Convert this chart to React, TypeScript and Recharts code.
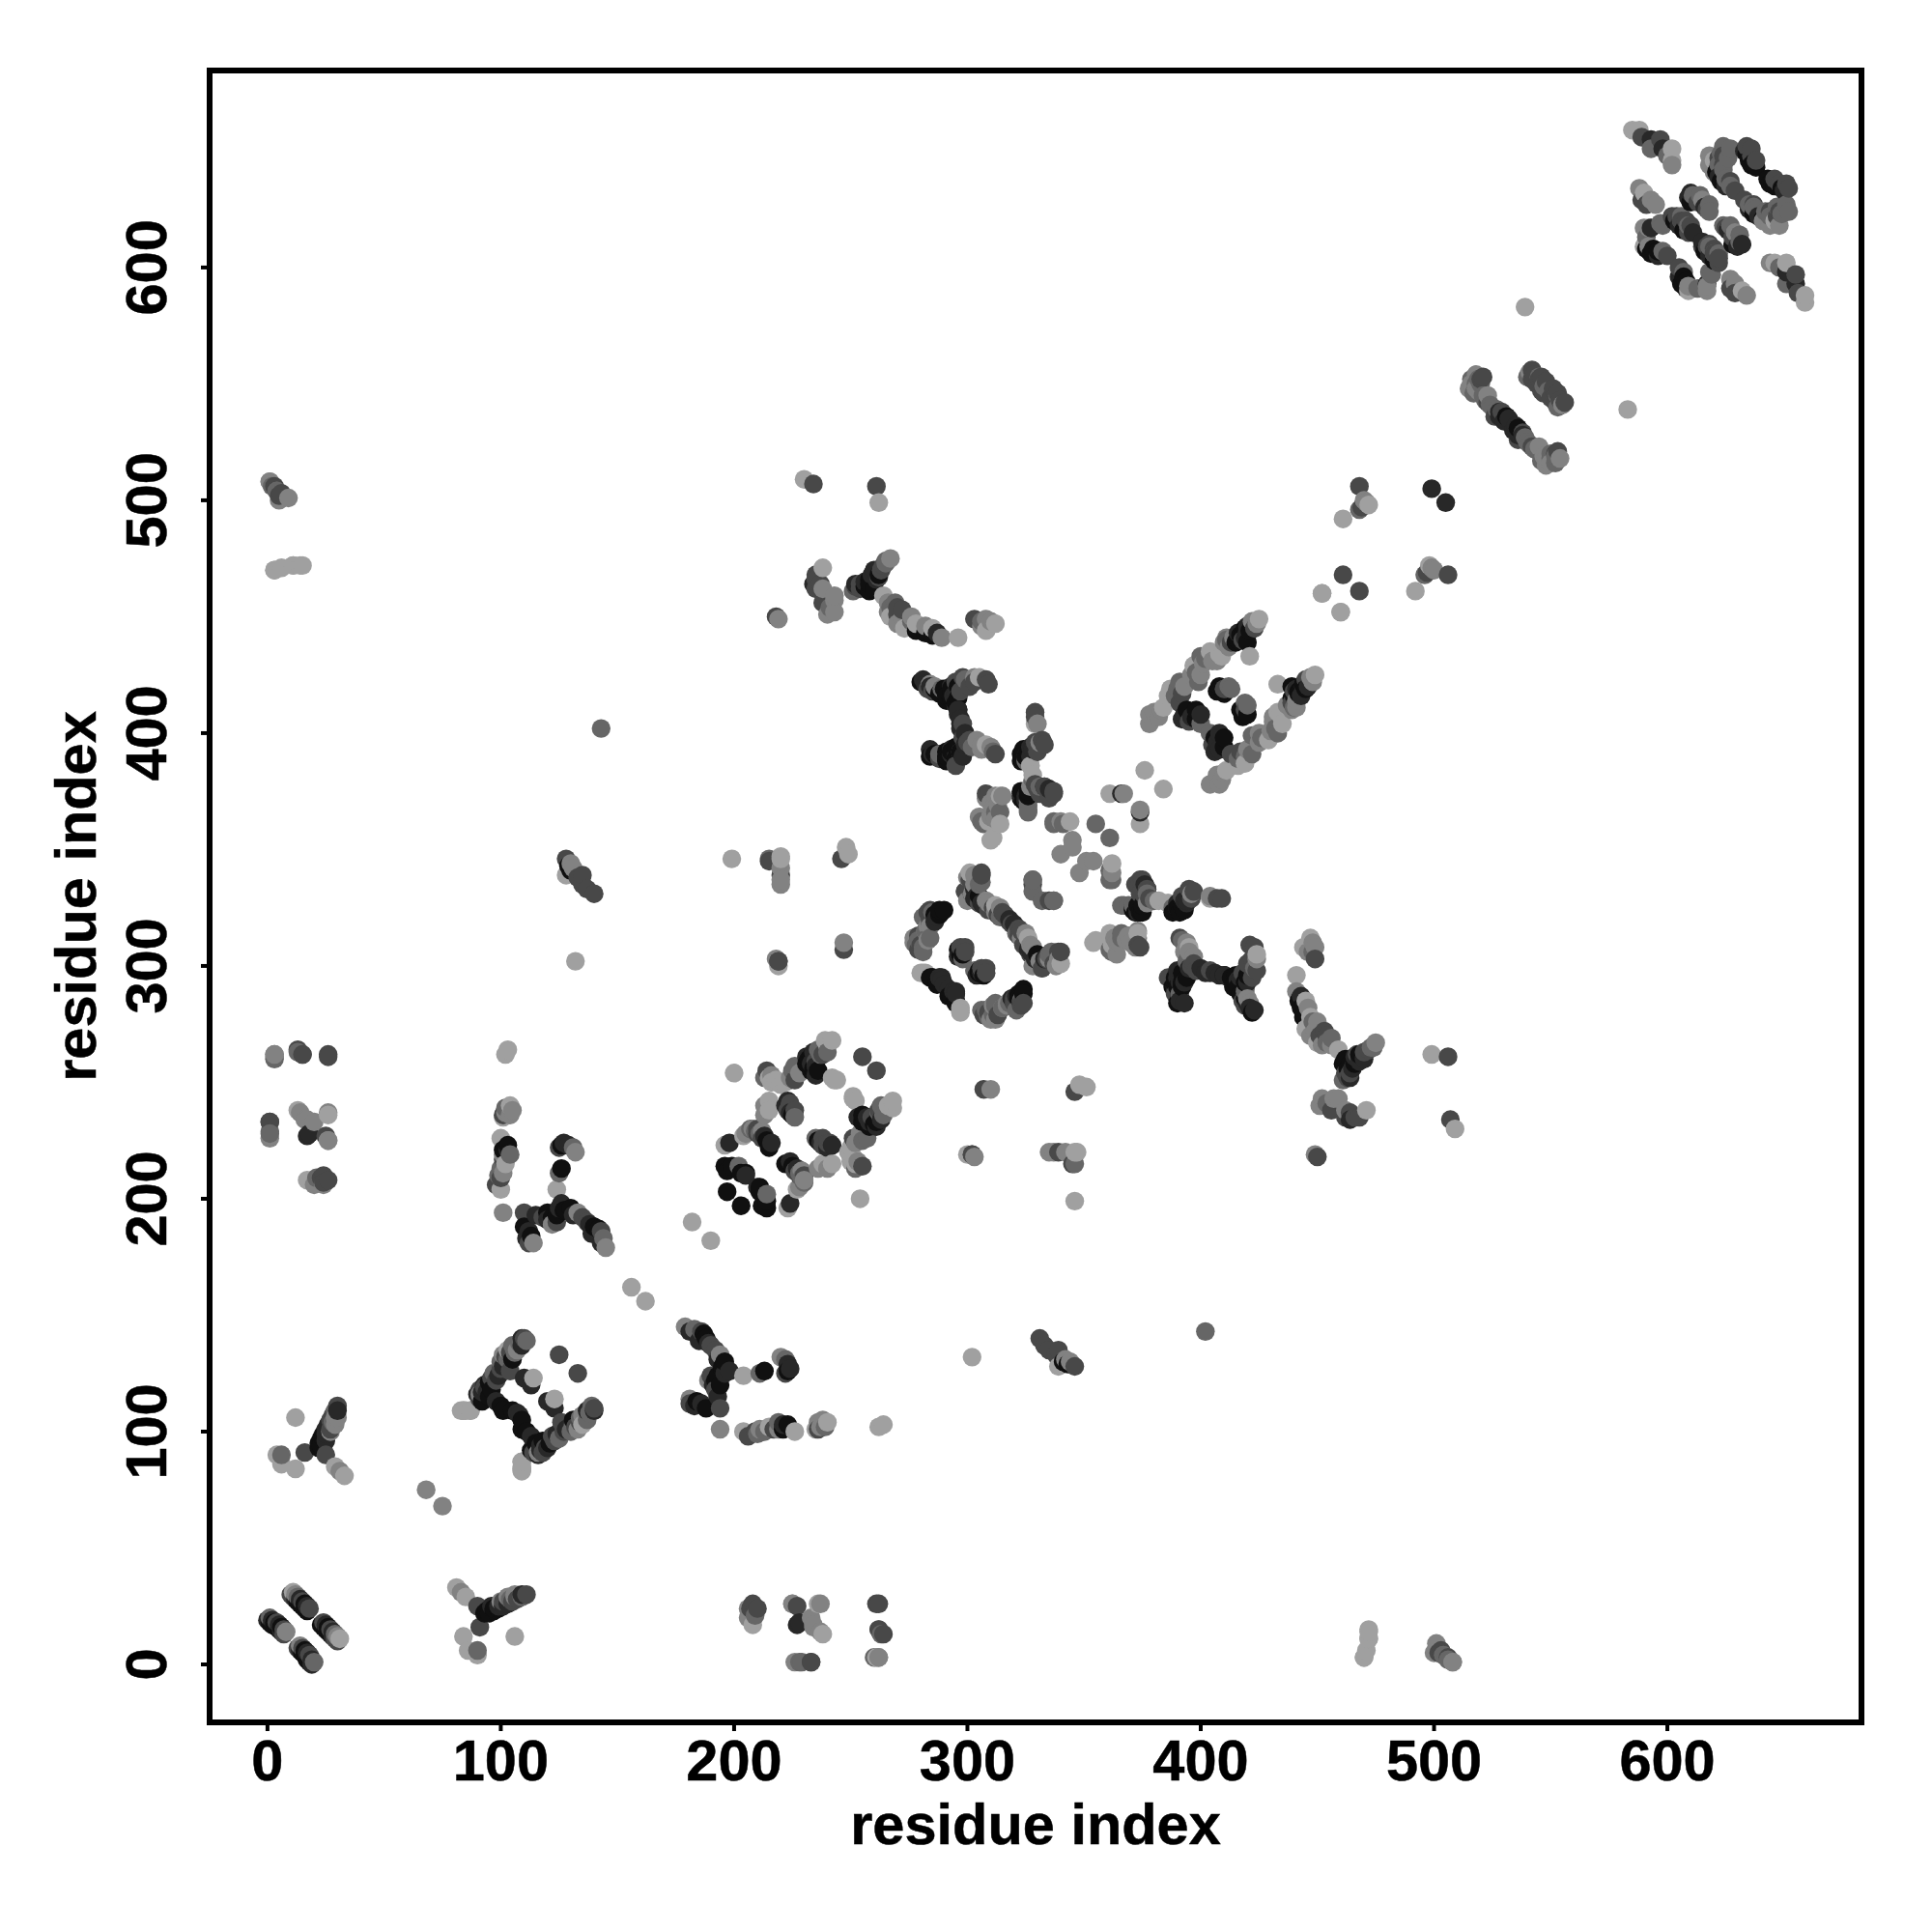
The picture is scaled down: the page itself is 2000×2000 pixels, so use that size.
/**
 * App.tsx — residue contact map, drawn as one symmetric scatter in shades of gray.
 * Each row is [residue i, residue j, level]; level 0 is the lightest, 5 the darkest.
 */

import { ScatterChart, Scatter, XAxis, YAxis, ReferenceArea, Label } from "recharts";

const TICKS = [0, 100, 200, 300, 400, 500, 600];
const AXIS_TITLE = "residue index";
const GRAYS = ["#a0a0a0", "#828282", "#666666", "#484848", "#282828", "#101010"];

const block0to30 = [
  [0, 19, 4], [1, 18, 5], [2, 17, 5], [3, 17, 5], [4, 16, 5], [5, 15, 5], [6, 14, 4], [7, 13, 3],
  [10, 30, 3], [11, 29, 3], [12, 28, 4], [13, 27, 5], [14, 26, 5], [15, 25, 5], [16, 24, 5], [17, 23, 5],
  [1, 20, 2], [2, 19, 4], [3, 18, 5], [4, 18, 3], [5, 17, 4], [6, 16, 5], [7, 15, 3], [8, 14, 1],
  [11, 31, 0], [12, 30, 1], [13, 29, 2], [14, 28, 4], [15, 27, 3], [16, 26, 5], [17, 25, 4], [18, 24, 3],
];

const block0to30vs90 = [
  [93, 22, 5], [95, 22, 5], [97, 23, 5], [99, 24, 5], [101, 25, 4], [103, 26, 4], [105, 27, 3], [107, 28, 3], [109, 29, 2], [111, 30, 3],
  [96, 25, 4], [100, 27, 1], [103, 29, 1], [106, 30, 1],
  [81, 33, 0], [83, 31, 1], [85, 29, 0], [90, 25, 3], [94, 23, 5], [97, 24, 5], [99, 25, 4], [101, 27, 3],
  [104, 28, 2], [106, 29, 1], [109, 30, 4], [91, 16, 3], [84, 12, 0], [106, 12, 0], [86, 6, 0], [90, 4, 0], [90, 6, 2],
];

const block90to140 = [
  [91, 118, 3], [93, 120, 4], [96, 123, 3], [97, 125, 2], [100, 127, 3], [100, 130, 2], [102, 132, 3], [103, 131, 2], [105, 137, 2],
  [104, 134, 3], [107, 135, 1], [109, 140, 4], [111, 139, 2], [90, 116, 4], [91, 114, 3], [94, 117, 4], [95, 115, 5], [96, 118, 5],
  [68, 75, 1], [83, 109, 0], [85, 109, 0], [84, 109, 0], [87, 109, 0], [92, 113, 5], [92, 117, 4], [93, 119, 3],
  [91, 116, 1], [95, 121, 5], [98, 122, 3], [99, 124, 4], [98, 113, 4], [101, 109, 5], [100, 111, 5],
  [101, 128, 4], [101, 133, 1], [103, 135, 0], [106, 134, 2], [108, 138, 2], [110, 140, 3], [109, 137, 4],
  [105, 131, 5], [104, 126, 3], [105, 109, 5], [107, 108, 4], [110, 123, 4], [113, 120, 4], [114, 123, 0],
  [125, 133, 3], [109, 84, 0], [109, 87, 0], [156, 162, 0], [182, 190, 0],
];

const block180to145 = [
  [186, 143, 3], [188, 140, 5], [189, 138, 4], [192, 135, 3], [193, 131, 4], [195, 127, 5], [196, 125, 4], [192, 122, 5], [190, 124, 3],
  [194, 120, 5], [192, 118, 3], [186, 112, 4], [183, 111, 4], [222, 131, 2], [224, 127, 4], [222, 125, 3], [210, 99, 2], [213, 100, 2],
  [217, 101, 3], [219, 101, 1], [221, 101, 5], [237, 102, 1], [239, 102, 2], [236, 104, 1],
  [179, 145, 1], [183, 144, 2], [181, 143, 4], [187, 142, 5], [185, 139, 4], [190, 137, 3], [194, 133, 1], [196, 130, 5],
  [198, 126, 4], [204, 124, 0], [211, 125, 2], [213, 126, 5], [220, 132, 1], [223, 129, 4], [223, 126, 5], [193, 124, 5],
  [195, 128, 5], [191, 120, 4], [189, 122, 1], [193, 115, 4], [194, 110, 3], [188, 110, 5], [184, 113, 5], [181, 114, 1], [181, 112, 3],
  [194, 101, 1], [204, 100, 0], [206, 98, 3], [209, 100, 3], [211, 101, 1], [215, 102, 0], [219, 104, 2], [221, 103, 4], [223, 103, 5],
  [226, 100, 0], [235, 101, 0], [236, 101, 3], [238, 105, 1], [240, 104, 0], [262, 102, 0], [264, 103, 0],
  [302, 132, 0], [331, 140, 3], [333, 137, 3], [335, 135, 3], [339, 135, 3], [342, 131, 1], [339, 128, 0], [343, 129, 5], [346, 128, 3],
  [402, 143, 2], [338, 133, 3], [341, 130, 5], [344, 130, 1],
];

const block200to270 = [
  [210, 230, 3], [212, 229, 1], [213, 227, 4], [216, 224, 4], [224, 241, 3], [222, 240, 4], [231, 261, 4], [233, 261, 5], [235, 259, 3],
  [237, 262, 2], [235, 257, 4], [231, 258, 5], [233, 255, 5], [235, 253, 4], [216, 253, 1], [218, 251, 0], [220, 249, 0], [224, 252, 1], [225, 255, 2],
  [224, 240, 3], [224, 237, 4], [226, 238, 3], [213, 240, 1], [213, 236, 1], [205, 228, 1], [207, 230, 2],
  [200, 254, 0], [204, 227, 0], [196, 223, 0], [198, 224, 4], [196, 214, 5], [197, 212, 5], [199, 214, 5], [202, 214, 2],
  [203, 211, 5], [205, 211, 5], [205, 210, 4], [197, 203, 5], [208, 230, 1], [209, 229, 2], [210, 228, 3], [211, 228, 2],
  [212, 226, 3], [214, 225, 5], [215, 222, 5], [214, 255, 3], [213, 252, 2], [215, 252, 0], [216, 250, 0], [221, 250, 0], [222, 250, 0],
  [215, 242, 0], [215, 238, 0], [223, 242, 4], [223, 238, 3], [225, 236, 5], [226, 235, 2], [226, 251, 3], [226, 257, 2], [228, 254, 1],
  [232, 260, 5], [233, 258, 4], [234, 256, 5], [234, 263, 4], [236, 255, 5], [236, 264, 2], [238, 262, 3], [240, 266, 0], [240, 263, 2],
  [239, 268, 0], [242, 268, 0], [242, 252, 0], [244, 251, 0], [243, 251, 0], [255, 261, 3],
];

const blockFarPairs = [
  [282, 297, 0], [288, 295, 4], [285, 295, 5], [295, 289, 4], [295, 285, 5], [297, 281, 0], [308, 281, 2], [310, 277, 1], [313, 279, 3],
  [317, 283, 1], [320, 286, 3], [323, 285, 2], [323, 284, 3], [324, 290, 5], [306, 297, 4], [308, 299, 3],
  [307, 279, 3], [309, 278, 2], [312, 283, 2], [315, 282, 1], [318, 284, 2], [321, 287, 4], [322, 288, 5],
  [307, 247, 3], [310, 247, 1], [346, 246, 3], [348, 249, 0], [351, 248, 0],
  [300, 219, 0], [302, 219, 3], [303, 218, 1], [335, 220, 1], [339, 220, 3], [342, 220, 1], [347, 220, 0], [346, 215, 2], [346, 199, 0],
  [219, 302, 3], [220, 337, 1], [220, 346, 0], [215, 345, 3],
];

const block280to340 = [
  [282, 315, 2], [279, 311, 2], [283, 311, 1], [283, 323, 3], [286, 322, 5], [284, 320, 3], [296, 307, 5], [296, 304, 4], [303, 298, 2], [305, 297, 5],
  [289, 294, 4], [287, 293, 5], [292, 290, 4], [292, 287, 5],
  [300, 338, 1], [303, 334, 3], [302, 331, 4], [305, 327, 3], [307, 326, 4], [309, 324, 3], [313, 322, 3], [319, 318, 3], [321, 314, 2], [323, 312, 1],
  [325, 311, 3], [327, 306, 4], [329, 303, 4], [331, 302, 1], [333, 303, 4], [335, 303, 1], [337, 301, 3],
  [288, 324, 5], [284, 324, 3], [281, 321, 2], [284, 317, 1], [277, 312, 1], [280, 309, 3], [284, 312, 2], [286, 319, 4],
  [297, 308, 3], [298, 305, 5], [306, 299, 3], [280, 297, 0], [284, 295, 5], [288, 295, 4], [306, 281, 2],
  [301, 340, 0], [306, 340, 3], [306, 336, 2], [299, 332, 1], [304, 330, 4], [308, 328, 1], [312, 326, 0], [315, 323, 3], [318, 320, 4],
  [322, 316, 3], [325, 314, 1], [327, 309, 1], [330, 305, 5], [335, 305, 2], [339, 306, 3], [339, 303, 1], [328, 300, 1], [332, 299, 3],
  [328, 337, 2], [328, 335, 3], [332, 328, 2], [337, 328, 2],
];

const block280to420 = [
  [293, 420, 4], [296, 420, 5], [283, 419, 3], [288, 417, 5], [294, 416, 4], [296, 410, 5], [297, 404, 4], [299, 395, 4], [302, 394, 2], [306, 393, 1],
  [286, 391, 5], [291, 389, 4], [293, 393, 4], [295, 390, 4], [297, 392, 3], [280, 422, 5],
  [323, 391, 5], [325, 388, 2], [326, 392, 5], [329, 396, 3], [323, 372, 5], [325, 371, 4], [327, 377, 1], [330, 376, 3], [335, 373, 3], [326, 369, 2],
  [308, 372, 1], [310, 370, 1], [305, 364, 1], [310, 365, 1], [313, 369, 1],
  [281, 423, 4], [284, 421, 1], [286, 419, 5], [290, 419, 5], [295, 422, 3], [298, 424, 3], [303, 424, 1], [308, 423, 3],
  [295, 412, 4], [296, 408, 4], [297, 406, 4], [297, 402, 4], [298, 398, 3], [304, 397, 1], [308, 395, 0], [311, 392, 2],
  [284, 393, 4], [288, 391, 5], [293, 391, 4], [295, 394, 5], [291, 392, 5], [300, 396, 3],
  [329, 409, 3], [329, 404, 0], [324, 393, 5], [325, 390, 4], [327, 394, 4], [332, 397, 3], [327, 386, 0], [326, 367, 2],
  [325, 373, 4], [323, 374, 5], [328, 380, 2], [333, 377, 4], [337, 375, 3],
  [308, 374, 3], [312, 373, 1], [315, 373, 1], [306, 362, 2], [312, 366, 2], [309, 362, 0], [312, 363, 1], [311, 355, 0],
];

const blockDiagonal340 = [
  [337, 362, 2], [340, 362, 1], [344, 362, 0], [345, 354, 1], [340, 348, 1], [345, 351, 1], [341, 361, 2], [337, 361, 2], [355, 361, 2],
  [361, 374, 0], [366, 374, 4], [367, 374, 1], [376, 384, 0],
];

const block370to425 = [
  [372, 335, 3], [374, 331, 3], [376, 335, 4], [371, 324, 5], [373, 323, 4], [375, 323, 5], [388, 323, 5], [390, 327, 4], [392, 330, 3], [394, 328, 4],
  [389, 292, 5], [388, 291, 5], [389, 288, 3], [392, 293, 5], [390, 298, 4], [414, 291, 5], [417, 295, 4], [419, 289, 2], [418, 285, 3],
  [420, 301, 3], [422, 303, 3], [415, 296, 5], [420, 284, 4], [390, 284, 5],
  [374, 337, 3], [377, 333, 3], [377, 331, 2], [366, 326, 2], [371, 326, 2], [373, 326, 5], [375, 326, 5], [378, 329, 3], [382, 328, 0],
  [386, 327, 0], [390, 325, 5], [393, 328, 4], [395, 333, 3], [396, 331, 1], [404, 330, 1], [407, 329, 3],
  [373, 314, 0], [373, 309, 3], [366, 314, 2], [361, 314, 0], [361, 307, 2], [354, 310, 0], [368, 311, 1], [364, 310, 1],
  [391, 312, 3], [394, 310, 1], [395, 306, 1], [397, 301, 3], [392, 297, 5], [389, 295, 5], [386, 295, 3], [390, 291, 5],
  [391, 288, 2], [391, 285, 4], [400, 299, 4], [404, 298, 3], [410, 296, 4], [413, 295, 5], [415, 293, 5], [418, 297, 3],
  [421, 309, 3], [424, 305, 0], [423, 299, 2], [420, 286, 1], [421, 282, 4], [416, 291, 5], [419, 293, 5],
];

const block380to450 = [
  [415, 439, 5], [416, 440, 5], [418, 442, 5], [420, 444, 4], [423, 445, 3], [424, 447, 1], [410, 439, 1], [412, 437, 1], [407, 431, 1], [405, 431, 1],
  [401, 430, 1], [398, 426, 2], [396, 425, 1], [392, 417, 3], [390, 419, 2], [386, 416, 0], [383, 410, 1], [380, 409, 1],
  [394, 410, 5], [396, 407, 4], [392, 406, 4], [398, 406, 5], [398, 410, 5], [400, 404, 2], [407, 418, 5], [410, 417, 5],
  [378, 404, 1], [378, 408, 1], [382, 407, 1], [384, 411, 0], [387, 419, 0], [389, 416, 2], [391, 422, 2], [391, 413, 3], [393, 408, 4],
  [395, 405, 3], [393, 420, 1], [397, 429, 0], [400, 433, 2], [399, 422, 2], [400, 408, 4], [400, 425, 1],
  [404, 435, 0], [408, 434, 0], [411, 441, 1], [414, 441, 1], [416, 443, 4], [417, 442, 5], [419, 445, 5], [420, 446, 4], [422, 448, 1], [425, 449, 0],
  [408, 420, 5], [410, 419, 4], [412, 420, 2], [421, 433, 0], [419, 441, 4], [421, 444, 5], [420, 439, 5], [418, 440, 3],
  [411, 440, 2], [413, 439, 3], [409, 433, 0], [402, 432, 2], [413, 419, 2], [410, 419, 3],
];

const block240to310vs450 = [
  [461, 258, 5], [463, 256, 5], [465, 256, 4], [466, 258, 5], [468, 259, 4], [470, 260, 4], [472, 264, 3], [474, 265, 2], [462, 254, 3], [463, 252, 3],
  [464, 252, 4], [467, 262, 3], [446, 306, 1], [448, 306, 2], [448, 310, 1], [443, 287, 4], [443, 282, 5], [446, 282, 1], [448, 276, 2], [450, 276, 1],
  [451, 270, 3], [454, 270, 3], [454, 267, 2], [456, 266, 1], [452, 266, 1], [447, 270, 1], [457, 243, 1], [452, 243, 1], [456, 238, 3], [464, 237, 3],
  [464, 234, 4], [468, 235, 3],
  [447, 312, 0], [449, 308, 1], [449, 303, 3], [444, 308, 0], [441, 296, 0], [441, 289, 1], [442, 285, 5], [445, 285, 0],
  [444, 278, 5], [447, 278, 0], [445, 273, 0], [449, 272, 1], [453, 272, 3], [456, 269, 2], [450, 267, 0], [459, 264, 0],
  [462, 260, 5], [464, 258, 5], [466, 261, 4], [468, 262, 5], [470, 263, 3], [473, 265, 2], [475, 267, 1],
  [461, 251, 2], [464, 254, 3], [451, 240, 1], [454, 241, 2], [459, 243, 1], [466, 235, 3], [462, 235, 3], [462, 238, 1], [471, 238, 0],
  [450, 218, 3], [449, 219, 1],
];

const blockLongRange = [
  [506, 261, 3], [499, 262, 0], [507, 234, 3], [509, 230, 0],
  [206, 24, 1], [206, 20, 1], [208, 17, 0], [209, 23, 3], [210, 24, 3],
  [225, 26, 0], [227, 25, 3], [227, 17, 4], [226, 1, 1], [229, 1, 2], [233, 1, 3], [237, 26, 1], [234, 16, 1], [238, 13, 0],
  [262, 26, 3], [262, 15, 2], [264, 13, 3], [261, 3, 0], [262, 3, 1],
  [472, 15, 0], [472, 11, 0], [470, 3, 0], [500, 5, 1], [504, 4, 2], [506, 3, 3], [508, 1, 1],
  [1, 508, 1], [2, 506, 2], [4, 504, 2], [5, 502, 3], [6, 503, 3], [9, 501, 1],
  [3, 470, 0], [6, 471, 0], [11, 472, 0], [14, 472, 0],
  [3, 260, 2], [3, 262, 1], [13, 263, 2], [15, 262, 3], [26, 261, 3],
  [1, 233, 3], [1, 228, 2], [14, 237, 1], [17, 234, 1], [18, 228, 4], [20, 233, 1], [26, 225, 1], [26, 236, 0],
  [21, 209, 2], [24, 207, 3], [26, 208, 3],
];

const block460to510 = [
  [452, 460, 0], [461, 468, 3], [460, 452, 0], [461, 492, 0], [468, 496, 2], [470, 500, 1], [472, 498, 0], [468, 506, 3], [499, 505, 4],
  [469, 497, 3], [471, 499, 1], [539, 583, 0],
];

const block515to555 = [
  [515, 548, 1], [516, 552, 2], [518, 554, 1], [520, 550, 2], [517, 546, 2], [523, 542, 3], [525, 540, 2], [526, 536, 3], [528, 536, 4], [530, 534, 4],
  [532, 535, 4], [521, 545, 2], [523, 545, 1], [519, 547, 1], [540, 553, 2], [542, 552, 3], [544, 550, 3], [546, 547, 3], [542, 556, 3], [545, 553, 2],
  [546, 553, 3], [548, 551, 3], [518, 550, 2], [520, 552, 3],
  [516, 550, 1], [518, 548, 1], [519, 552, 2], [521, 553, 3], [524, 541, 2], [527, 539, 2], [529, 538, 3], [531, 536, 5],
  [522, 543, 2], [528, 538, 4], [541, 555, 1], [543, 554, 3], [545, 552, 3], [547, 549, 2],
];

const block585to660 = [
  [609, 630, 4], [610, 628, 5], [613, 628, 3], [614, 631, 2], [616, 626, 4], [617, 625, 3], [603, 620, 5], [605, 618, 4], [607, 616, 5], [609, 615, 3],
  [602, 622, 3], [606, 622, 2], [608, 620, 3], [610, 618, 3], [591, 608, 5], [593, 606, 5], [596, 605, 4],
  [633, 650, 4], [634, 649, 5], [635, 646, 5], [637, 645, 5], [623, 649, 2], [622, 647, 3], [624, 644, 3], [621, 641, 5],
  [623, 637, 5], [625, 635, 4], [627, 637, 3],
  [585, 659, 0], [588, 659, 0], [589, 656, 3], [593, 655, 4], [597, 655, 3], [593, 651, 2], [598, 651, 4], [600, 648, 2],
  [602, 651, 0], [602, 646, 0], [602, 644, 1],
  [588, 634, 1], [593, 629, 1], [589, 629, 3], [590, 617, 1], [593, 617, 4], [597, 619, 2], [590, 609, 0], [594, 608, 5], [598, 607, 2],
  [600, 605, 3], [596, 607, 5], [592, 609, 1], [591, 613, 2], [592, 617, 1], [598, 618, 2],
  [604, 622, 3], [606, 620, 2], [609, 617, 3], [611, 631, 2], [610, 632, 4], [615, 629, 1], [618, 627, 2], [618, 624, 2],
  [611, 615, 4], [609, 618, 2], [606, 620, 3],
  [618, 648, 1], [618, 644, 1], [624, 652, 2], [624, 648, 3], [622, 644, 2], [622, 639, 4], [625, 638, 2], [627, 635, 2],
  [634, 652, 3], [636, 648, 3], [636, 644, 5], [638, 643, 5], [638, 646, 3], [636, 651, 3], [627, 651, 2], [626, 647, 2],
  [629, 633, 3], [626, 637, 2], [624, 642, 2], [620, 641, 1], [620, 646, 0], [595, 627, 1], [591, 627, 3], [590, 632, 0],
];

const contactBlocks = [
  block0to30, block0to30vs90, block90to140, block180to145, block200to270, blockFarPairs, block280to340, block280to420,
  blockDiagonal340, block370to425, block380to450, block240to310vs450, blockLongRange, block460to510, block515to555, block585to660,
];

// contacts go both ways, later residues paint over earlier ones
const points = contactBlocks
  .flat()
  .flatMap(([i, j, level]) => [
    { x: i, y: j, level },
    { x: j, y: i, level },
  ])
  .sort((a, b) => a.x - b.x);

const FONT = "'Liberation Sans', Arial, sans-serif";
const textStyle = { fontFamily: FONT, fontWeight: "bold", fontSize: 59.5, fill: "#000", stroke: "#000", strokeWidth: 0.5 };

function XTick({ x, y, payload }: any) {
  return (
    <text x={x} y={y + 49} textAnchor="middle" style={textStyle}>
      {payload.value}
    </text>
  );
}

function YTick({ x, y, payload }: any) {
  return (
    <text x={x} y={y} transform={`rotate(-90 ${x - 34} ${y}) translate(-34 0)`} textAnchor="middle" style={textStyle}>
      {payload.value}
    </text>
  );
}

function Dot({ cx, cy, payload }: any) {
  return <circle cx={cx} cy={cy} r={9.7} fill={GRAYS[payload.level]} />;
}

function XTitle({ viewBox }: any) {
  return (
    <text x={viewBox.x + viewBox.width / 2} y={1909} textAnchor="middle" style={textStyle}>
      {AXIS_TITLE}
    </text>
  );
}

function YTitle({ viewBox }: any) {
  const cy = viewBox.y + viewBox.height / 2;
  return (
    <text transform={`rotate(-90 99 ${cy})`} x={99} y={cy} textAnchor="middle" style={textStyle}>
      {AXIS_TITLE}
    </text>
  );
}

export default function App() {
  return (
    <div style={{ position: "absolute", left: 0, top: 0, width: 2000, height: 2000, background: "#fff" }}>
      <ScatterChart width={2000} height={2000} margin={{ top: 73, right: 73, bottom: 0, left: 0 }}>
        <XAxis
          type="number"
          dataKey="x"
          domain={[-24.8, 683.2]}
          ticks={TICKS}
          height={217}
          axisLine={false}
          tickLine={{ stroke: "#000", strokeWidth: 4 }}
          tickSize={9}
          tick={<XTick />}
          interval={0}
          allowDataOverflow
        >
          <Label content={<XTitle />} />
        </XAxis>
        <YAxis
          type="number"
          dataKey="y"
          domain={[-24.9, 684.6]}
          ticks={TICKS}
          width={217}
          axisLine={false}
          tickLine={{ stroke: "#000", strokeWidth: 4 }}
          tickSize={9}
          tick={<YTick />}
          interval={0}
          allowDataOverflow
        >
          <Label content={<YTitle />} />
        </YAxis>
        <ReferenceArea x1={-24.8} x2={683.2} y1={-24.9} y2={684.6} fill="none" stroke="#000" strokeWidth={6} ifOverflow="visible" />
        <Scatter data={points} shape={<Dot />} isAnimationActive={false} />
      </ScatterChart>
    </div>
  );
}
